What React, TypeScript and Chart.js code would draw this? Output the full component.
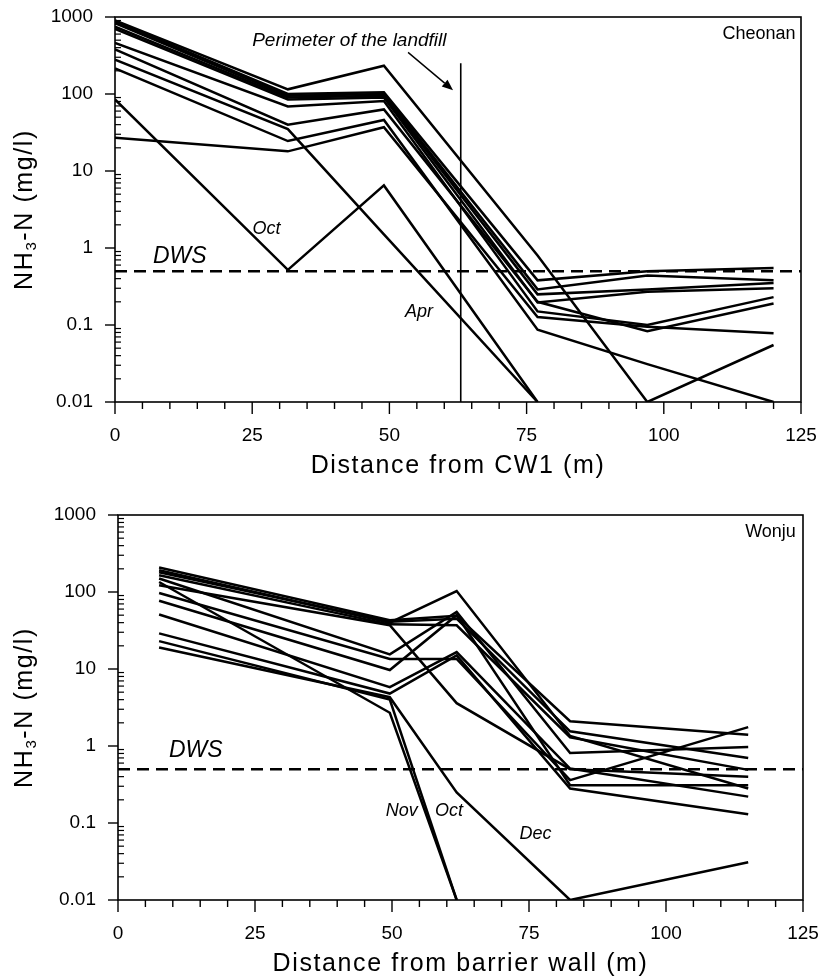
import React, { useEffect, useRef } from 'react';
import { Chart, registerables } from 'chart.js';
Chart.register(...registerables);

const FONT = '"Liberation Sans", Arial, Helvetica, sans-serif';

// ---------- shared axis ticks ----------
const yTickValues = [0.01, 0.1, 1, 10, 100, 1000];
const yTickLabels = ['0.01', '0.1', '1', '10', '100', '1000'];
const xTickValues = [0, 25, 50, 75, 100, 125];
const xTickLabels = ['0', '25', '50', '75', '100', '125'];
const DWS = 0.5;

// ---------- Cheonan (top) ----------
const cheonanX = [0, 31.5, 49, 77, 97, 120];
const cheonan1 = [900, 115, 233, 0.8, 0.01, 0.055];
const cheonan2 = [880, 100, 105, 0.38, 0.5, 0.55];
const cheonan3 = [830, 95, 100, 0.29, 0.44, 0.38];
const cheonan4 = [750, 90, 95, 0.25, 0.29, 0.35];
const cheonan5 = [700, 85, 90, 0.196, 0.27, 0.3];
const cheonan6 = [460, 69, 81, 0.15, 0.1, 0.23];
const cheonan7 = [380, 40, 63, 0.2, 0.083, 0.19];
const cheonanApr = [280, 35, 1.5, 0.01, null, null];
const cheonan9 = [215, 24.5, 46, 0.087, 0.031, 0.01];
const cheonan10 = [27, 18, 37, 0.127, 0.095, 0.078];
const cheonanOct = [85, 0.52, 6.5, 0.01, null, null];
const cheonanSeries = [cheonan1, cheonan2, cheonan3, cheonan4, cheonan5, cheonan6, cheonan7, cheonanApr, cheonan9, cheonan10, cheonanOct];
const perimeterX = 63;
const perimeterTop = 250;

// ---------- Wonju (bottom) ----------
const wonjuX = [7.5, 49.6, 61.8, 82.5, 115];
const wonju1 = [192, 40, 103, 1.35, 0.28];
const wonju2 = [208, 43, 49, 2.1, 1.4];
const wonju3 = [180, 41, 45, 1.55, 0.7];
const wonju4 = [165, 38, 37, 1.3, 0.49];
const wonju5 = [150, 15.5, 55, 0.81, 0.97];
const wonjuNov = [135, 2.7, 0.01, null, null];
const wonju7 = [122, 37, 3.6, 0.5, 0.4];
const wonju8 = [97, 13.5, 13.5, 0.36, 1.76];
const wonju9 = [77, 9.7, 50, 0.31, 0.31];
const wonju10 = [51, 5.8, 16.6, 0.51, 0.22];
const wonju11 = [29, 4.8, 15, 0.28, 0.13];
const wonjuOct = [23, 4.0, 0.01, null, null];
const wonjuDec = [19, 4.3, 0.25, 0.01, 0.031];
const wonjuSeries = [wonju1, wonju2, wonju3, wonju4, wonju5, wonjuNov, wonju7, wonju8, wonju9, wonju10, wonju11, wonjuOct, wonjuDec];

type Note = { text: string; x: number; y: number; size: number; italic?: boolean; align?: CanvasTextAlign };

const cheonanNotes: Note[] = [
  { text: 'Perimeter of the landfill', x: 42.7, y: 490, size: 19, italic: true },
  { text: 'Cheonan', x: 124, y: 600, size: 18, align: 'right' },
  { text: 'Oct', x: 27.6, y: 1.78, size: 18, italic: true },
  { text: 'DWS', x: 11.8, y: 0.78, size: 23, italic: true },
  { text: 'Apr', x: 55.4, y: 0.148, size: 18, italic: true },
];
const cheonanArrow = { x1: 53.4, y1: 347, x2: 61.6, y2: 112 };

const wonjuNotes: Note[] = [
  { text: 'Wonju', x: 123.7, y: 600, size: 18, align: 'right' },
  { text: 'DWS', x: 14.2, y: 0.88, size: 23, italic: true },
  { text: 'Nov', x: 51.8, y: 0.143, size: 18, italic: true },
  { text: 'Oct', x: 60.4, y: 0.143, size: 18, italic: true },
  { text: 'Dec', x: 76.2, y: 0.0716, size: 18, italic: true },
];

type PanelProps = {
  width: number;
  height: number;
  top: number;
  padding: { left: number; right: number; top: number; bottom: number };
  xs: number[];
  series: (number | null)[][];
  notes: Note[];
  xTitle: string;
  perimeter?: boolean;
  arrow?: { x1: number; y1: number; x2: number; y2: number };
};

function Panel(props: PanelProps) {
  const ref = useRef<HTMLCanvasElement | null>(null);
  useEffect(() => {
    if (!ref.current) return;
    const datasets: any[] = props.series.map((vals) => ({
      data: props.xs
        .map((x, i) => (vals[i] == null ? null : { x, y: vals[i] as number }))
        .filter((p) => p !== null),
      borderColor: '#000',
      borderWidth: 2.5,
      pointRadius: 0,
      fill: false,
      tension: 0,
    }));
    datasets.push({
      data: [{ x: 0, y: DWS }, { x: 125, y: DWS }],
      borderColor: '#000',
      borderWidth: 2.5,
      borderDash: [12, 7],
      pointRadius: 0,
      fill: false,
    });
    if (props.perimeter) {
      datasets.push({
        data: [{ x: perimeterX, y: 0.01 }, { x: perimeterX, y: perimeterTop }],
        borderColor: '#000',
        borderWidth: 1.6,
        pointRadius: 0,
        fill: false,
      });
    }

    const axesPlugin = {
      id: 'customAxes',
      afterDraw(chart: any) {
        const { ctx, chartArea: a, scales } = chart;
        const xs = scales.x;
        const ys = scales.y;
        ctx.save();
        ctx.strokeStyle = '#000';
        ctx.fillStyle = '#000';
        ctx.lineWidth = 1.6;
        ctx.strokeRect(a.left, a.top, a.right - a.left, a.bottom - a.top);
        const line = (x1: number, y1: number, x2: number, y2: number, w = 1.4) => {
          ctx.lineWidth = w;
          ctx.beginPath();
          ctx.moveTo(x1, y1);
          ctx.lineTo(x2, y2);
          ctx.stroke();
        };
        // y ticks
        ctx.font = `19px ${FONT}`;
        ctx.textAlign = 'right';
        ctx.textBaseline = 'middle';
        yTickValues.forEach((v, i) => {
          const py = ys.getPixelForValue(v);
          line(a.left - 10, py, a.left, py);
          ctx.fillText(yTickLabels[i], a.left - 22, py);
          if (i < yTickValues.length - 1) {
            for (let m = 2; m <= 9; m++) {
              const pm = ys.getPixelForValue(m * v);
              line(a.left, pm, a.left + 6, pm, 1.2);
            }
          }
        });
        // x ticks
        for (let t = 0; t <= 125; t += 5) {
          const px = xs.getPixelForValue(t);
          const major = t % 25 === 0;
          line(px, a.bottom, px, a.bottom + (major ? 12 : 7), 1.4);
        }
        ctx.textAlign = 'center';
        xTickValues.forEach((v, i) => {
          ctx.fillText(xTickLabels[i], xs.getPixelForValue(v), a.bottom + 34);
        });
        // x title
        ctx.font = `25px ${FONT}`;
        (ctx as any).letterSpacing = '1.6px';
        ctx.fillText(props.xTitle, (a.left + a.right) / 2, a.bottom + 64);
        // y title with subscript
        ctx.save();
        ctx.translate(23, (a.top + a.bottom) / 2);
        ctx.rotate(-Math.PI / 2);
        ctx.textAlign = 'left';
        ctx.textBaseline = 'alphabetic';
        ctx.font = `25px ${FONT}`;
        const w1 = ctx.measureText('NH').width;
        const w3 = ctx.measureText('-N (mg/l)').width;
        ctx.font = `15px ${FONT}`;
        const w2 = ctx.measureText('3').width;
        const x0 = -(w1 + w2 + w3) / 2;
        ctx.font = `25px ${FONT}`;
        ctx.fillText('NH', x0, 9);
        ctx.font = `15px ${FONT}`;
        ctx.fillText('3', x0 + w1, 13);
        ctx.font = `25px ${FONT}`;
        ctx.fillText('-N (mg/l)', x0 + w1 + w2, 9);
        ctx.restore();
        (ctx as any).letterSpacing = '0px';
        // notes
        ctx.textBaseline = 'middle';
        props.notes.forEach((n) => {
          ctx.font = `${n.italic ? 'italic ' : ''}${n.size}px ${FONT}`;
          ctx.textAlign = n.align || 'center';
          ctx.fillText(n.text, xs.getPixelForValue(n.x), ys.getPixelForValue(n.y));
        });
        // arrow
        if (props.arrow) {
          const ar = props.arrow;
          const x1 = xs.getPixelForValue(ar.x1);
          const y1 = ys.getPixelForValue(ar.y1);
          const x2 = xs.getPixelForValue(ar.x2);
          const y2 = ys.getPixelForValue(ar.y2);
          const ang = Math.atan2(y2 - y1, x2 - x1);
          const hl = 11;
          const hw = 4.5;
          const bx = x2 - hl * Math.cos(ang);
          const by = y2 - hl * Math.sin(ang);
          line(x1, y1, bx, by, 1.4);
          ctx.beginPath();
          ctx.moveTo(x2, y2);
          ctx.lineTo(bx + hw * Math.sin(ang), by - hw * Math.cos(ang));
          ctx.lineTo(bx - hw * Math.sin(ang), by + hw * Math.cos(ang));
          ctx.closePath();
          ctx.fill();
        }
        ctx.restore();
      },
    };

    const chart = new Chart(ref.current, {
      type: 'line',
      data: { datasets },
      options: {
        animation: false,
        responsive: false,
        maintainAspectRatio: false,
        layout: { padding: props.padding },
        plugins: { legend: { display: false }, tooltip: { enabled: false } },
        scales: {
          x: { type: 'linear', min: 0, max: 125, display: false },
          y: { type: 'logarithmic', min: 0.01, max: 1000, display: false },
        },
      },
      plugins: [axesPlugin],
    } as any);
    return () => chart.destroy();
  }, []);
  return (
    <canvas
      ref={ref}
      width={props.width}
      height={props.height}
      style={{ position: 'absolute', left: 0, top: props.top, width: props.width, height: props.height }}
    />
  );
}

export default function App() {
  return (
    <div style={{ position: 'absolute', left: 0, top: 0, width: 824, height: 976, background: '#fff' }}>
      <Panel
        width={824}
        height={480}
        top={0}
        padding={{ left: 115, right: 23, top: 17, bottom: 78 }}
        xs={cheonanX}
        series={cheonanSeries}
        notes={cheonanNotes}
        xTitle="Distance from CW1 (m)"
        perimeter
        arrow={cheonanArrow}
      />
      <Panel
        width={824}
        height={496}
        top={480}
        padding={{ left: 118, right: 21, top: 35, bottom: 76 }}
        xs={wonjuX}
        series={wonjuSeries}
        notes={wonjuNotes}
        xTitle="Distance from barrier wall (m)"
      />
    </div>
  );
}
